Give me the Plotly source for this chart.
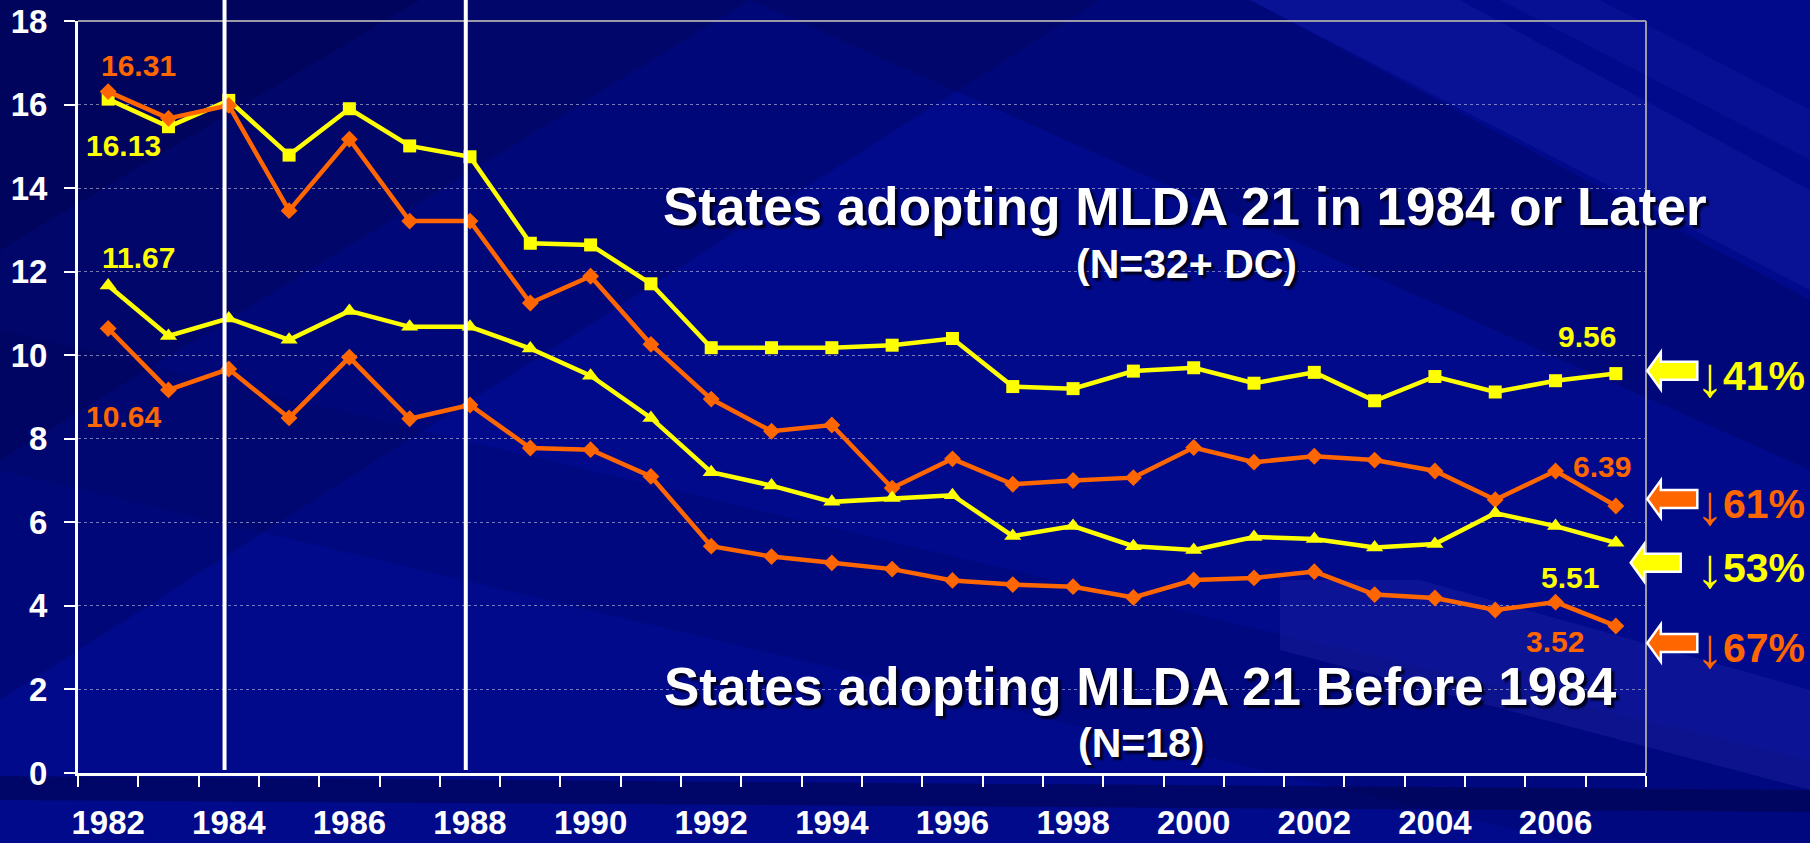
import plotly.graph_objects as go

# ---------------- data ----------------
years = list(range(1982, 2008))
later_yellow = [16.13, 15.47, 16.10, 14.79, 15.90, 15.01, 14.75, 12.68, 12.64, 11.71, 10.18, 10.18, 10.18,
                10.24, 10.40, 9.25, 9.20, 9.62, 9.70, 9.33, 9.59, 8.91, 9.49, 9.12, 9.39, 9.56]
later_orange = [16.31, 15.67, 15.98, 13.46, 15.17, 13.21, 13.21, 11.25, 11.89, 10.26, 8.95, 8.18, 8.33,
                6.82, 7.52, 6.91, 7.00, 7.07, 7.79, 7.44, 7.58, 7.49, 7.23, 6.54, 7.23, 6.39]
before_yellow = [11.67, 10.46, 10.88, 10.37, 11.06, 10.68, 10.68, 10.16, 9.51, 8.50, 7.20, 6.88, 6.49,
                 6.58, 6.65, 5.67, 5.91, 5.43, 5.34, 5.65, 5.60, 5.40, 5.48, 6.22, 5.91, 5.51]
before_orange = [10.64, 9.17, 9.67, 8.50, 9.95, 8.48, 8.81, 7.78, 7.74, 7.10, 5.43, 5.18, 5.03,
                 4.88, 4.61, 4.51, 4.46, 4.20, 4.62, 4.67, 4.82, 4.27, 4.19, 3.90, 4.09, 3.52]
x_tick_years = list(range(1982, 2007, 2))
x_tick_labels = [str(y) for y in x_tick_years]
y_ticks = list(range(0, 19, 2))
reference_years = [1984, 1988]
pct_labels = ["41%", "61%", "53%", "67%"]
title_later = "States adopting MLDA 21 in 1984 or Later"
sub_later = "(N=32+ DC)"
title_before = "States adopting MLDA 21 Before 1984"
sub_before = "(N=18)"

# ---------------- geometry / style ----------------
W, H = 1810, 843
ML, MR, MT, MB = 78, 164, 21, 70
PW, PH = W - ML - MR, H - MT - MB
X0, X1 = 1981.5, 2007.5
Y0, Y1 = 0, 18
YELLOW = "#FFFF00"
ORANGE = "#FF6600"
FONT = "Liberation Sans, Arial, sans-serif"


def px_y(yv):
    return MT + (Y1 - yv) / (Y1 - Y0) * PH


def pap_x(px):
    return (px - ML) / PW


def pap_y(py):
    return (H - MB - py) / PH


fig = go.Figure()

series = [
    (later_yellow, YELLOW, "square", 13),
    (later_orange, ORANGE, "diamond", 13),
    (before_yellow, YELLOW, "triangle-up", 15),
    (before_orange, ORANGE, "diamond", 13),
]
for vals, col, sym, size in series:
    fig.add_trace(go.Scatter(
        x=years, y=vals, mode="lines+markers",
        line=dict(color=col, width=4.5),
        marker=dict(symbol=sym, size=size, color=col, line=dict(width=0)),
        showlegend=False, hoverinfo="skip", cliponaxis=False,
    ))

shapes = []


def poly(points, fill, layer="below"):
    d = "M " + " L ".join(f"{pap_x(px):.5f},{pap_y(py):.5f}" for px, py in points) + " Z"
    return dict(type="path", path=d, xref="paper", yref="paper", fillcolor=fill,
                line=dict(width=0), layer=layer)


# ---- background decoration (soft diagonal streaks) ----
shapes += [
    poly([(0, 0), (1100, 0), (0, 700)], "rgba(0,0,40,0.16)"),
    poly([(0, 0), (750, 0), (0, 460)], "rgba(0,0,40,0.18)"),
    poly([(0, 0), (420, 0), (0, 250)], "rgba(0,0,40,0.18)"),
    poly([(750, 0), (1250, 0), (1810, 300), (1810, 470)], "rgba(0,0,40,0.16)"),
    poly([(1250, 0), (1460, 0), (1810, 190), (1810, 290)], "rgba(70,70,230,0.12)"),
    poly([(1500, 0), (1600, 0), (1810, 110), (1810, 160)], "rgba(70,70,230,0.10)"),
    poly([(0, 330), (0, 470), (1810, 900), (1810, 760)], "rgba(0,0,40,0.10)"),
    poly([(1280, 580), (1420, 580), (1810, 690), (1810, 790), (1280, 650)], "rgba(120,120,255,0.10)"),
    poly([(0, 776), (1810, 790), (1810, 812), (0, 800)], "rgba(0,0,40,0.35)"),
]

# ---- plot border (top & right grey) ----
shapes.append(dict(type="line", xref="paper", yref="paper", x0=0, x1=1, y0=1, y1=1,
                   line=dict(color="#9a9aa8", width=2)))
shapes.append(dict(type="line", xref="paper", yref="paper", x0=1, x1=1, y0=0, y1=1,
                   line=dict(color="#9a9aa8", width=2)))

# ---- vertical reference lines ----
for ry in reference_years:
    shapes.append(dict(type="line", xref="x", yref="paper", x0=ry - 0.07, x1=ry - 0.07,
                       y0=0.004, y1=pap_y(0), line=dict(color="white", width=4)))

# ---- block arrows at right ----
arrow_specs = [  # (series index, tip x px, vertical offset px, color)
    (0, 1647.3, -2.9, YELLOW),
    (1, 1647.3, -7.0, ORANGE),
    (2, 1630.7, 19.9, YELLOW),
    (3, 1647.3, 17.1, ORANGE),
]
for idx, tx, dy, col in arrow_specs:
    cy = px_y(series[idx][0][-1]) + dy
    pts = [(tx, cy), (tx + 13.5, cy - 18.7), (tx + 13.5, cy - 9), (tx + 50, cy - 9),
           (tx + 50, cy + 9), (tx + 13.5, cy + 9), (tx + 13.5, cy + 18.7)]
    d = "M " + " L ".join(f"{pap_x(px):.5f},{pap_y(py):.5f}" for px, py in pts) + " Z"
    shapes.append(dict(type="path", path=d, xref="paper", yref="paper", fillcolor=col,
                       line=dict(color="white", width=2.5), layer="above"))

annotations = []

# ---- value labels at start/end ----
label_specs = [  # (series idx, point idx, dx, dy_up, color)
    (1, 0, 30, 26, ORANGE),
    (0, 0, 15, -46, YELLOW),
    (2, 0, 30, 28, YELLOW),
    (3, 0, 15, -88, ORANGE),
    (0, -1, -29, 37, YELLOW),
    (1, -1, -14, 40, ORANGE),
    (2, -1, -46, -35, YELLOW),
    (3, -1, -61, -16, ORANGE),
]
for si, pi, dx, dyu, col in label_specs:
    v = series[si][0][pi]
    annotations.append(dict(
        x=years[pi], y=v, xref="x", yref="y", text=f"{v:.2f}", showarrow=False,
        xshift=dx, yshift=dyu, xanchor="center", yanchor="middle",
        font=dict(family=FONT, size=30, color=col, weight="bold"),
    ))

# ---- percent change labels (thin down-arrow glyph + bold percentage) ----
pct_specs = [(0, -2.4, YELLOW), (1, 2.0, ORANGE), (2, -24.7, YELLOW), (3, -21.6, ORANGE)]
for (si, dyu, col), lab in zip(pct_specs, pct_labels):
    v = series[si][0][-1]
    annotations.append(dict(
        x=pap_x(1721), xref="paper", y=v, yref="y", yshift=dyu,
        text=lab, showarrow=False, xanchor="left", yanchor="middle",
        font=dict(family=FONT, size=41, color=col, weight="bold"),
    ))
    annotations.append(dict(
        x=pap_x(1710), xref="paper", y=v, yref="y", yshift=dyu,
        text="\u2193", showarrow=False, xanchor="center", yanchor="middle",
        font=dict(family=FONT, size=56, color=col, weight="normal"),
    ))

# ---- group titles ----
shadow = "3px 3px 2px #000020"
annotations += [
    dict(x=pap_x(661), y=pap_y(206.5), xref="paper", yref="paper", text=title_later,
         showarrow=False, xanchor="left", yanchor="middle",
         font=dict(family=FONT, size=53, color="white", weight="bold", shadow=shadow)),
    dict(x=pap_x(1186), y=pap_y(264), xref="paper", yref="paper", text=sub_later,
         showarrow=False, xanchor="center", yanchor="middle",
         font=dict(family=FONT, size=41, color="white", weight="bold", shadow=shadow)),
    dict(x=pap_x(662), y=pap_y(686), xref="paper", yref="paper", text=title_before,
         showarrow=False, xanchor="left", yanchor="middle",
         font=dict(family=FONT, size=53, color="white", weight="bold", shadow=shadow)),
    dict(x=pap_x(1141), y=pap_y(743), xref="paper", yref="paper", text=sub_before,
         showarrow=False, xanchor="center", yanchor="middle",
         font=dict(family=FONT, size=41, color="white", weight="bold", shadow=shadow)),
]

half_years = [y - 0.5 for y in years] + [years[-1] + 0.5]

fig.update_layout(
    width=W, height=H,
    margin=dict(l=ML, r=MR, t=MT, b=MB, pad=0, autoexpand=False),
    paper_bgcolor="#000A8A",
    plot_bgcolor="rgba(0,0,0,0)",
    shapes=shapes,
    annotations=annotations,
    showlegend=False,
    font=dict(family=FONT, color="white"),
    xaxis=dict(
        range=[X0, X1], tickmode="array", tickvals=x_tick_years, ticktext=x_tick_labels,
        ticks="outside", ticklen=11, tickcolor="rgba(0,0,0,0)", tickwidth=2,
        ticklabelstandoff=7, automargin=False,
        tickfont=dict(family=FONT, size=33, color="white", weight="bold"),
        showline=True, linecolor="white", linewidth=3, showgrid=False, zeroline=False,
        minor=dict(tickmode="array", tickvals=half_years, ticks="outside", ticklen=11,
                   tickwidth=2, tickcolor="white", showgrid=False),
    ),
    yaxis=dict(
        range=[Y0, Y1], tickmode="array", tickvals=y_ticks,
        ticks="outside", ticklen=11, tickcolor="white", tickwidth=2,
        ticklabelstandoff=10, automargin=False,
        tickfont=dict(family=FONT, size=33, color="white", weight="bold"),
        showline=True, linecolor="white", linewidth=3,
        showgrid=True, gridcolor="rgba(200,200,225,0.6)", gridwidth=1, griddash="dot",
        zeroline=False,
    ),
)

fig.write_html("out.html", config={"displayModeBar": False},
               post_script="document.body.style.margin='0';document.body.style.overflow='hidden';")
